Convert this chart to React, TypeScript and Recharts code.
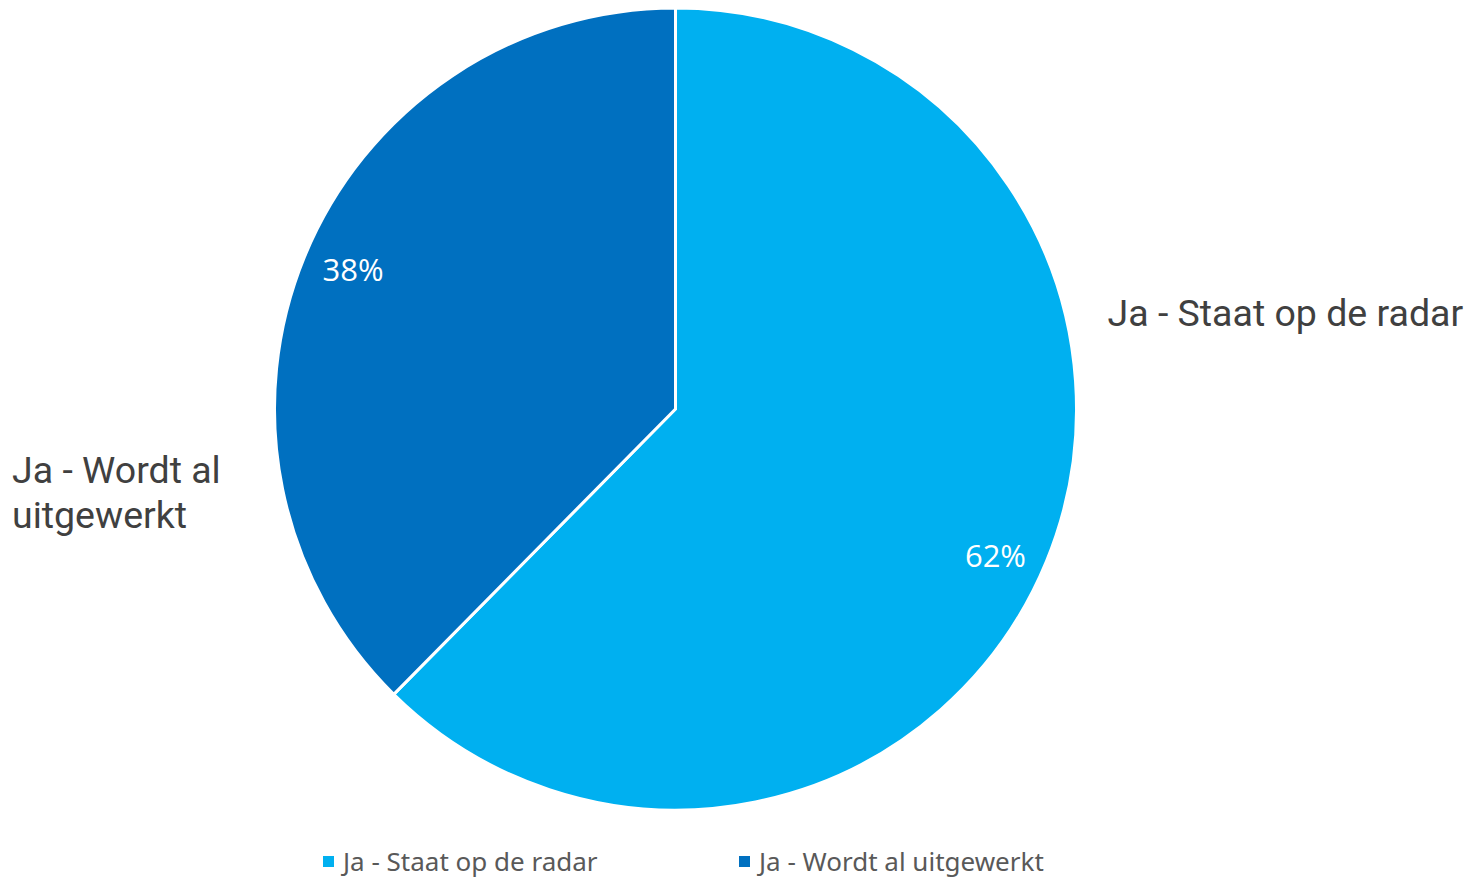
import React from 'react';
import { PieChart, Pie, Cell, Legend } from 'recharts';

const categories = ['Ja - Staat op de radar', 'Ja - Wordt al uitgewerkt'];
const shares = [62.4, 37.6];
const percentLabels = ['62%', '38%'];
const colors = ['#00B0F0', '#0070C0'];

const data = categories.map((name, i) => ({ name, value: shares[i], pct: percentLabels[i] }));

const RADIAN = Math.PI / 180;

// Excel places the labels a bit off the mid angle, nudge them to match
const innerAngleShift = [-2.2, -1.2];

const renderLabel = (props: any) => {
  const { cx, cy, outerRadius, midAngle, index } = props;
  const a = (midAngle + innerAngleShift[index]) * RADIAN;
  const r = outerRadius * 0.877;
  const px = cx + r * Math.cos(a);
  const py = cy - r * Math.sin(a);
  const pct = (
    <text x={px} y={py} fill="#fff" textAnchor="middle" dominantBaseline="central"
      style={{ fontFamily: '"Open Sans", sans-serif', fontSize: 31 }}>
      {data[index].pct}
    </text>
  );
  if (index === 0) {
    return (
      <g>
        {pct}
        <text x={cx + outerRadius + 31} y={cy - 96} fill="#404040" dominantBaseline="central"
          style={{ fontFamily: 'Roboto, sans-serif', fontSize: 37.5 }}>
          {data[index].name}
        </text>
      </g>
    );
  }
  return (
    <g>
      {pct}
      <text x={12} y={cy + 61} fill="#404040" dominantBaseline="central"
        style={{ fontFamily: 'Roboto, sans-serif', fontSize: 37.5 }}>
        <tspan x={12}>Ja - Wordt al</tspan>
        <tspan x={12} dy={45}>uitgewerkt</tspan>
      </text>
    </g>
  );
};

const renderLegend = (props: any) => {
  const { payload } = props;
  return (
    <div style={{ display: 'flex', fontFamily: '"Noto Sans", sans-serif', fontSize: 26, color: '#595959', lineHeight: '30px' }}>
      {payload.map((p: any, i: number) => (
        <div key={i} style={{ display: 'flex', alignItems: 'center', width: 416 }}>
          <span style={{ width: 11, height: 11, background: p.color, marginRight: 9 }} />
          <span>{p.value}</span>
        </div>
      ))}
    </div>
  );
};

export default function App() {
  return (
    <div style={{ position: 'absolute', left: 0, top: 0, width: 1470, height: 878, background: '#fff' }}>
      <PieChart width={1470} height={878} margin={{ top: 0, right: 0, bottom: 0, left: 0 }}>
        <Pie
          data={data}
          dataKey="value"
          nameKey="name"
          cx={675.5}
          cy={409}
          outerRadius={401}
          startAngle={90}
          endAngle={-270}
          stroke="#fff"
          strokeWidth={3}
          label={renderLabel}
          labelLine={false}
          isAnimationActive={false}
        >
          {data.map((d, i) => (
            <Cell key={d.name} fill={colors[i]} />
          ))}
        </Pie>
        <Legend
          content={renderLegend}
          wrapperStyle={{ position: 'absolute', left: 323, top: 846, width: 900 }}
        />
      </PieChart>
    </div>
  );
}
